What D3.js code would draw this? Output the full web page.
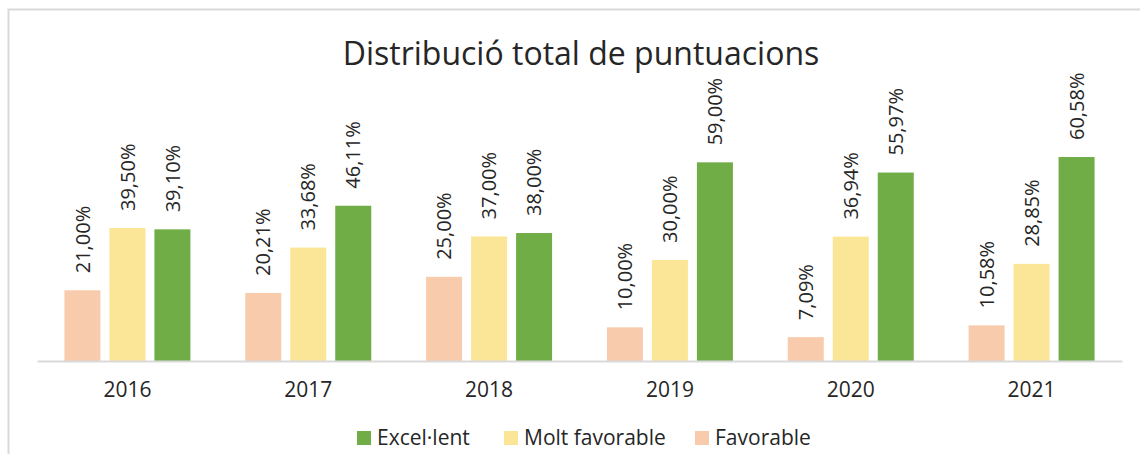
<!DOCTYPE html>
<html>
<head>
<meta charset="utf-8">
<script src="https://cdn.jsdelivr.net/npm/d3@7"></script>
<style>
  body { margin: 0; background: #fff; }
  svg text { font-family: "Open Sans", "Noto Sans", sans-serif; fill: #262626; }
</style>
</head>
<body>
<div id="chart"></div>
<script>
var years = ["2016", "2017", "2018", "2019", "2020", "2021"];
var series = ["Favorable", "Molt favorable", "Excel·lent"];
var favorable = [21.00, 20.21, 25.00, 10.00, 7.09, 10.58];
var moltFavorable = [39.50, 33.68, 37.00, 30.00, 36.94, 28.85];
var excellent = [39.10, 46.11, 38.00, 59.00, 55.97, 60.58];
var legendOrder = ["Excel·lent", "Molt favorable", "Favorable"];

var colors = {"Favorable": "#F8CBAD", "Molt favorable": "#FBE597", "Excel·lent": "#70AD47"};
var values = {"Favorable": favorable, "Molt favorable": moltFavorable, "Excel·lent": excellent};

var width = 1140, height = 454;
var svg = d3.select("#chart").append("svg")
    .attr("width", width)
    .attr("height", height);

// chart frame (cut off at right and bottom in the original)
svg.append("rect")
  .attr("x", 8.5).attr("y", 9.5)
  .attr("width", 1200).attr("height", 500)
  .attr("fill", "none")
  .attr("stroke", "#D9D9D9")
  .attr("stroke-width", 2);

svg.append("text")
  .attr("x", 581).attr("y", 65)
  .attr("text-anchor", "middle")
  .style("font-size", "32px")
  .text("Distribució total de puntuacions");

var x0 = d3.scaleBand().domain(years).range([37, 1122]);
var x1 = d3.scaleBand().domain(series).range([-63, 63]).paddingInner(0.2);
var y = d3.scaleLinear().domain([0, 70]).range([361, 125.3]);

var rows = [];
years.forEach(function(yr, i) {
  series.forEach(function(s) {
    rows.push({year: yr, serie: s, value: values[s][i]});
  });
});

function cx(d) { return x0(d.year) + x0.bandwidth() / 2 + x1(d.serie) + x1.bandwidth() / 2; }

svg.append("g").selectAll("rect")
  .data(rows)
  .enter()
  .append("rect")
  .attr("x", function(d) { return cx(d) - x1.bandwidth() / 2; })
  .attr("y", function(d) { return y(d.value); })
  .attr("width", x1.bandwidth())
  .attr("height", function(d) { return y(0) - y(d.value); })
  .attr("fill", function(d) { return colors[d.serie]; });

svg.append("g").selectAll("text")
  .data(rows)
  .enter()
  .append("text")
  .attr("transform", function(d) { return "translate(" + cx(d) + "," + (y(d.value) - 17) + ") rotate(-90)"; })
  .attr("dy", "0.36em")
  .style("font-size", "20px")
  .text(function(d) { return d.value.toFixed(2).replace(".", ",") + "%"; });

// axis
var axis = svg.append("g")
  .attr("transform", "translate(0,361)")
  .call(d3.axisBottom(x0).tickSize(0).tickPadding(21));
axis.select(".domain").attr("stroke", "#D9D9D9").attr("stroke-width", 2);
axis.selectAll("text")
  .style("font-size", "21px")
  .attr("fill", "#262626")
  .style("font-family", "'Open Sans', 'Noto Sans', sans-serif");

// legend
var legendX = [357, 504, 695];
var legend = svg.append("g").selectAll("g")
  .data(legendOrder)
  .enter()
  .append("g")
  .attr("transform", function(d, i) { return "translate(" + legendX[i] + ",431)"; });
legend.append("rect")
  .attr("width", 14).attr("height", 14)
  .attr("fill", function(d) { return colors[d]; });
legend.append("text")
  .attr("x", 20).attr("y", 14)
  .style("font-size", "21px")
  .text(function(d) { return d; });
</script>
</body>
</html>
